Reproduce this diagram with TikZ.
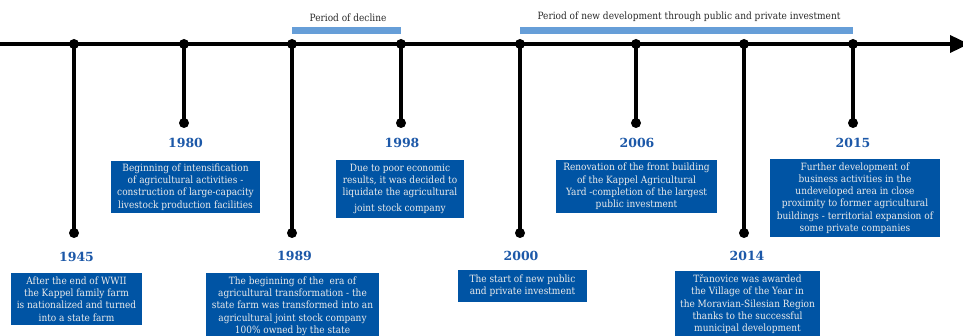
\documentclass[tikz,border=0pt]{standalone}
\usepackage{fontspec}
\setmainfont{DejaVu Serif Condensed}
\newfontfamily\yearfont{DejaVu Serif}
\usetikzlibrary{arrows.meta}
\definecolor{boxblue}{RGB}{0,84,164}
\definecolor{yearblue}{RGB}{28,88,168}
\definecolor{barblue}{RGB}{102,158,216}
\definecolor{txtgrey}{RGB}{40,40,40}
\begin{document}
\begin{tikzpicture}[x=1pt,y=-1pt,
  axis/.style={line width=3.5pt,black},
  dotc/.style={circle,fill=black,inner sep=0pt,minimum size=10pt},
  year/.style={font=\yearfont\bfseries\fontsize{12.5}{14}\selectfont,text=yearblue,inner sep=0pt},
  infobox/.style={fill=boxblue,text=white!92!black,align=center,inner sep=0pt,
    font=\fontsize{10}{12.2}\selectfont},
  bar/.style={fill=barblue,draw=none},
  plabel/.style={font=\fontsize{10}{11}\selectfont,text=txtgrey,inner sep=0pt}]
\useasboundingbox (0,0) rectangle (963,336);
% axis
\coordinate (ax0) at (0,44);
\coordinate (ax1) at (969,44);
\draw[axis,-{Triangle[length=19pt,width=17pt]}] (ax0) -- (ax1);
% top dots
\foreach \n/\x in {a/74,b/184,c/292,d/401,e/520,f/636,g/744,h/853}{
  \node[dotc] (t\n) at (\x,44) {};
}
% long verticals
\foreach \n/\x in {a/74,c/292,e/520,g/744}{
  \node[dotc] (b\n) at (\x,233) {};
  \draw[axis] (t\n.center) -- (b\n.center);
}
% short verticals
\foreach \n/\x in {b/184,d/401,f/636,h/853}{
  \node[dotc] (b\n) at (\x,123) {};
  \draw[axis] (t\n.center) -- (b\n.center);
}
% period bars
\fill[bar] (292,27) rectangle (401,34);
\fill[bar] (520,27) rectangle (853,34);
\node[plabel] (p1) at (348,17.5) {Period of decline};
\node[plabel] (p2) at (689,16.5) {Period of new development through public and private investment};
% years
\node[year] (y1945) at (76.5,257) {1945};
\node[year] (y1980) at (185.5,143) {1980};
\node[year] (y1989) at (294.5,256) {1989};
\node[year] (y1998) at (402,143) {1998};
\node[year] (y2000) at (521,256) {2000};
\node[year] (y2006) at (637,143) {2006};
\node[year] (y2014) at (747,256) {2014};
\node[year] (y2015) at (853,143) {2015};
% boxes
\node[infobox,minimum width=131pt,minimum height=52pt] (x1945) at (76.5,299)
  {After the end of WWII\\the Kappel family farm\\is nationalized and turned\\into a state farm};
\node[infobox,minimum width=149pt,minimum height=52pt] (x1980) at (185.5,187)
  {Beginning of intensification\\of agricultural activities -\\construction of large-capacity\\livestock production facilities};
\node[infobox,anchor=north,minimum width=173pt,minimum height=66pt] (x1989) at (292.5,273)
  {The beginning of the\ \ era of\\agricultural transformation - the\\state farm was transformed into an\\agricultural joint stock company\\100\% owned by the state};
\node[infobox,minimum width=128pt,minimum height=58pt] (x1998) at (400,189)
  {Due to poor economic\\results, it was decided to\\liquidate the agricultural\\[4pt]joint stock company};
\node[infobox,minimum width=129pt,minimum height=32pt] (x2000) at (522.5,286)
  {The start of new public\\and private investment};
\node[infobox,minimum width=161pt,minimum height=53pt] (x2006) at (636.5,186.5)
  {Renovation of the front building\\of the Kappel Agricultural\\Yard -completion of the largest\\public investment};
\node[infobox,anchor=north,minimum width=145pt,minimum height=66pt] (x2014) at (747.5,271)
  {Třanovice was awarded\\the Village of the Year in\\the Moravian-Silesian Region\\thanks to the successful\\municipal development};
\node[infobox,minimum width=170pt,minimum height=78pt] (x2015) at (855,198)
  {Further development of\\business activities in the\\undeveloped area in close\\proximity to former agricultural\\buildings - territorial expansion of\\some private companies};
\end{tikzpicture}
\end{document}
